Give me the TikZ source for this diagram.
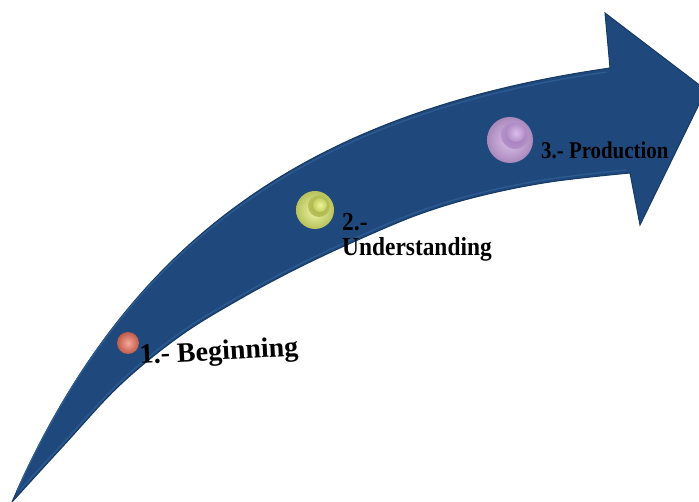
\documentclass[tikz,border=0pt]{standalone}
\usepackage{fontspec}
\setmainfont{Liberation Serif}
\definecolor{navy}{HTML}{1F497D}
\definecolor{navyedge}{HTML}{163A64}
\definecolor{navylight}{HTML}{2C5A90}
\definecolor{redball}{HTML}{F0705A}
\definecolor{yball}{HTML}{E6F272}
\definecolor{yballdark}{HTML}{B5C140}
\definecolor{pball}{HTML}{D3ABEA}
\definecolor{pballdark}{HTML}{A375C0}
\tikzset{
  lbl/.style={font=\bfseries\fontsize{26}{28}\selectfont, inner sep=0pt, text=black},
}
\begin{document}
\begin{tikzpicture}[x=1pt,y=-1pt]
\useasboundingbox (0,0) rectangle (699,502);
\clip (0,0) rectangle (699,502);
% arrow body
\path[fill=navy, draw=navyedge, line width=1pt, line join=miter]
  (12,502) .. controls (124,245) and (303,112) .. (610,68)
  -- (605,13) -- (706,90) -- (640,225) -- (630,173)
  -- plot[smooth, tension=0.6] coordinates {(630,173) (550,182) (480,196) (420,214) (360,239) (300,267) (240,299) (180,336) (120,385) (65,444) (12,502)}
  -- cycle;
% bevel highlight
\draw[navylight, line width=1.4pt]
  (17,491) .. controls (126,248) and (304,115) .. (607,72);
\draw[navylight, line width=1.4pt]
  plot[smooth, tension=0.6] coordinates {(626,170) (550,179) (480,193) (420,211) (360,236) (300,264) (240,296) (180,333) (120,382) (65,441) (20,490)};
% ball 1
\shade[inner color=redball!60!white, outer color=redball!80!black] (128,343) circle (11) node[coordinate] (b1) {};
% ball 2
\shade[inner color=yball!60!white, outer color=yball!80!black] (315,210) circle (19) node[coordinate] (b2) {};
\shade[inner color=yballdark!90!black, outer color=yball!80!black] (319,206) circle (11);
\shade[inner color=yball!70!white, outer color=yball!85!black] (320,205) circle (7);
% ball 3
\shade[inner color=pball!70!white, outer color=pball!80!black] (510,140) circle (23) node[coordinate] (b3) {};
\shade[inner color=pballdark, outer color=pball!85!black] (515,135) circle (14);
\shade[inner color=pball!80!white, outer color=pball!85!black] (516,133) circle (9);
% labels
\node[lbl, anchor=base west, rotate=3] (t1) at (140,364) {\fontsize{28}{30}\selectfont 1.- Beginning};
\node[lbl, anchor=base west] (t2a) at (342,231) {\scalebox{0.9}[1]{2.-}};
\node[lbl, anchor=base west] (t2b) at (342,256) {\scalebox{0.9}[1]{Understanding}};
\node[lbl, anchor=base west] (t3) at (541,159) {\fontsize{24}{26}\selectfont\scalebox{0.87}[1]{3.- Production}};
\end{tikzpicture}
\end{document}
